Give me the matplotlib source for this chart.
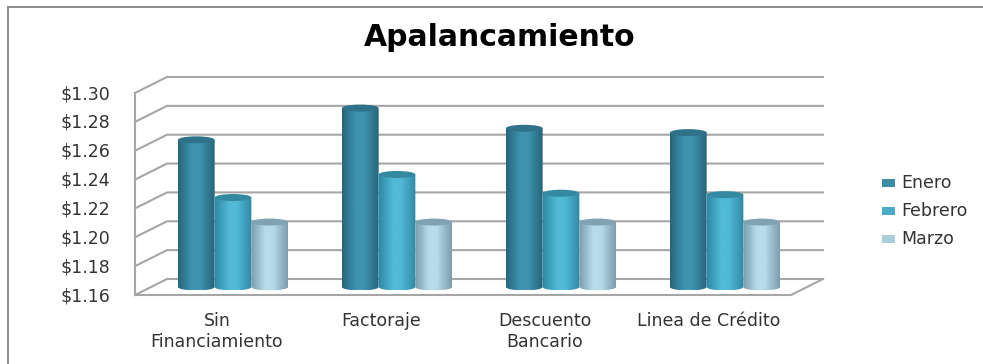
import numpy as np
import matplotlib
matplotlib.use("Agg")
from matplotlib import pyplot as plt
from matplotlib.colors import LinearSegmentedColormap
from matplotlib.patches import Ellipse, Rectangle, PathPatch
from matplotlib.path import Path

categories = ["Sin\nFinanciamiento", "Factoraje", "Descuento\nBancario", "Linea de Crédito"]
enero = [1.262, 1.284, 1.270, 1.267]
febrero = [1.222, 1.238, 1.225, 1.224]
marzo = [1.205, 1.205, 1.205, 1.205]
series_names = ["Enero", "Febrero", "Marzo"]
tick_values = [1.16, 1.18, 1.20, 1.22, 1.24, 1.26, 1.28, 1.30]

W, H = 983, 364
GRID = "#a6a6a6"
TEXT = "#333333"

# edge, centre, top, legend
styles = [
    ("#27667c", "#3f93ae", "#2f7289", "#3c8ca6"),
    ("#2f8aa6", "#52b9d6", "#33899f", "#4bacc6"),
    ("#7c9dad", "#b6dbea", "#7fa3b3", "#a9cfdc"),
]


def cylinder(ax, x0, width, top, base, style, rx_y):
    # gradient body clipped to a shape with a rounded bottom, then the lid
    cm = LinearSegmentedColormap.from_list(
        "c", [(0, style[0]), (0.38, style[1]), (0.6, style[1]), (1, style[0])])
    grad = np.linspace(0, 1, 64).reshape(1, -1)
    im = ax.imshow(grad, cmap=cm, extent=(x0, x0 + width, base - rx_y, top),
                   aspect="auto", zorder=3, interpolation="bilinear")
    t = np.linspace(np.pi, 2 * np.pi, 30)
    xs = x0 + width / 2 + width / 2 * np.cos(t)
    ys = base + rx_y * np.sin(t)
    verts = [(x0, top)] + list(zip(xs, ys)) + [(x0 + width, top), (x0, top)]
    clip = PathPatch(Path(verts), transform=ax.transData, fc="none", ec="none", clip_on=False)
    ax.add_patch(clip)
    im.set_clip_path(clip)
    # images get cut at the axes box otherwise, the rounded bottom hangs below it
    im.set_clip_box(ax.figure.bbox)
    ax.add_patch(Ellipse((x0 + width / 2, top), width, rx_y * 2, fc=style[2], ec="none",
                         zorder=4, clip_on=False))


fig = plt.figure(figsize=(W / 100, H / 100), dpi=100)
fig.patch.set_facecolor("white")

# axes sits on the mid depth plane of the fake 3d box
left, right, top_px, bot_px = 151, 807, 85, 287
ax = fig.add_axes([left / W, 1 - bot_px / H, (right - left) / W, (bot_px - top_px) / H])
ax.axis("off")

px_x = 4.0 / (right - left)
px_y = (tick_values[-1] - tick_values[0]) / (bot_px - top_px)
dx = 16 * px_x
dy = 8 * px_y
x_lo, x_hi = -0.5, 3.5
y_lo, y_hi = tick_values[0], tick_values[-1]

for v in tick_values:
    ax.plot([x_lo - dx, x_lo + dx, x_hi + dx], [v - dy, v + dy, v + dy],
            color=GRID, lw=1.5, clip_on=False, zorder=1, solid_joinstyle="miter")
    ax.text(x_lo - dx - 25 * px_x, v - dy - 1 * px_y, "$%.2f" % v, ha="right", va="center",
            fontsize=12.5, color=TEXT, clip_on=False)

# front edges of the box
ax.plot([x_lo - dx, x_lo - dx], [y_lo - dy, y_hi - dy], color=GRID, lw=1.5, clip_on=False, zorder=1)
ax.plot([x_lo - dx, x_hi - dx, x_hi + dx], [y_lo - dy, y_lo - dy, y_lo + dy],
        color=GRID, lw=1.5, clip_on=False, zorder=1)

bar_w = 36.7 * px_x
ry = 3.5 * px_y
series = [enero, febrero, marzo]
for i in range(len(categories)):
    for j, vals in enumerate(series):
        x0 = i + (j - 1.5) * bar_w
        cylinder(ax, x0, bar_w, vals[i], y_lo, styles[j], ry)

for i, c in enumerate(categories):
    ax.text(i - 16 * px_x, y_lo - 25 * px_y, c, ha="center", va="top", fontsize=12.5,
            color=TEXT, linespacing=1.2, clip_on=False)

ax.set_xlim(x_lo, x_hi)
ax.set_ylim(y_lo, y_hi)

fig.text(500 / W, 1 - 38 / H, "Apalancamiento", ha="center", va="center",
         fontsize=21.5, fontweight="bold", color="#000000")

# legend
for k, name in enumerate(series_names):
    y = 183 + k * 28
    fig.add_artist(Rectangle((882 / W, 1 - (y + 4) / H), 13 / W, 8 / H,
                             transform=fig.transFigure, fc=styles[k][3], ec="none"))
    fig.text(901 / W, 1 - y / H, name, ha="left", va="center", fontsize=12.5, color=TEXT)

# chart frame
fig.add_artist(plt.Line2D([8 / W, 8 / W], [1 - 7 / H, 0], color="#8c8c8c", lw=1.4))
fig.add_artist(plt.Line2D([8 / W, 1], [1 - 7 / H, 1 - 7 / H], color="#8c8c8c", lw=1.4))

fig.savefig("out.png", dpi=100)
